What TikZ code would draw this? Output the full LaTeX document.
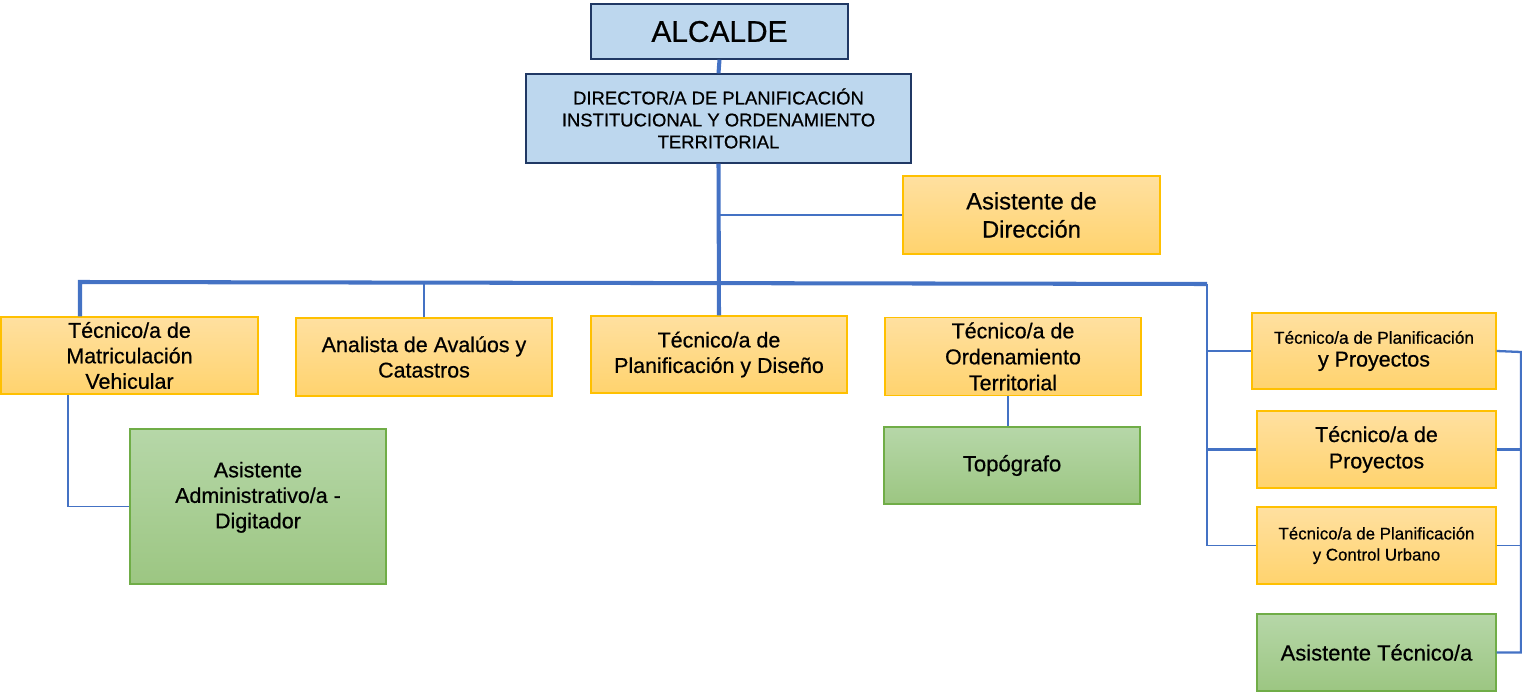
\documentclass[tikz,border=0pt]{standalone}
\usepackage{fontspec}
\setmainfont{Liberation Sans}[FakeBold=0.6]
\definecolor{linea}{RGB}{68,114,196}
\definecolor{azulfondo}{RGB}{189,215,238}
\definecolor{azulborde}{RGB}{32,56,100}
\definecolor{naranjaA}{RGB}{255,224,160}
\definecolor{naranjaB}{RGB}{255,211,110}
\definecolor{naranjaborde}{RGB}{255,192,0}
\definecolor{verdeA}{RGB}{182,215,168}
\definecolor{verdeB}{RGB}{156,198,130}
\definecolor{verdeborde}{RGB}{112,173,71}

\begin{document}
\begin{tikzpicture}[x=0.02cm, y=0.02cm,
    jefe/.style={draw=azulborde, line width=0.8pt, fill=azulfondo, align=center},
    cargo/.style={draw=naranjaborde, line width=0.8pt, top color=naranjaA, bottom color=naranjaB, align=center},
    apoyo/.style={draw=verdeborde, line width=0.8pt, top color=verdeA, bottom color=verdeB, align=center},
    bus/.style={draw=linea, line width=2.3pt},
    rama/.style={draw=linea, line width=0.7pt},
    ramab/.style={draw=linea, line width=1.3pt}]
                \tikzstyle{every node}+=[inner sep=0pt]
                \useasboundingbox (0,0) rectangle (1522,-693);
                % direccion
                \node [jefe, minimum width=5.14cm, minimum height=1.1cm, font=\fontsize{17}{20}\selectfont] (alc) at (719.5,-31.5) {ALCALDE};
                \node [jefe, minimum width=7.7cm, minimum height=1.78cm, font=\fontsize{10.5}{12.5}\selectfont] (dir) at (718.5,-118.5) {DIRECTOR/A DE PLANIFICACIÓN\\INSTITUCIONAL Y ORDENAMIENTO\\TERRITORIAL};
                \node [cargo, minimum width=5.14cm, minimum height=1.56cm, font=\fontsize{13.5}{16}\selectfont] (asd) at (1031.5,-215) {Asistente de\\Dirección};
                % primer nivel
                \node [cargo, minimum width=5.14cm, minimum height=1.54cm, font=\fontsize{12.2}{14.5}\selectfont] (mat) at (129.5,-355.5) {Técnico/a de\\Matriculación\\Vehicular};
                \node [cargo, minimum width=5.12cm, minimum height=1.56cm, font=\fontsize{12.2}{14.5}\selectfont] (ana) at (424,-357) {Analista de Avalúos y\\Catastros};
                \node [cargo, minimum width=5.12cm, minimum height=1.54cm, font=\fontsize{12.2}{14.5}\selectfont] (pld) at (719,-354.5) {Técnico/a de\\Planificación y Diseño};
                \node [cargo, minimum width=5.12cm, minimum height=1.56cm, font=\fontsize{12.2}{14.8}\selectfont] (ord) at (1013,-356.5) {Técnico/a de\\Ordenamiento\\Territorial};
                \node [apoyo, minimum width=5.12cm, minimum height=1.54cm, font=\fontsize{12.6}{14}\selectfont] (top) at (1012,-465.5) {Topógrafo};
                \node [apoyo, minimum width=5.12cm, minimum height=3.1cm, font=\fontsize{12.2}{14.5}\selectfont] (adm) at (258,-506.5) {Asistente\\Administrativo/a -\\Digitador\\[-1.5pt]};
                % columna derecha
                \node [cargo, minimum width=4.88cm, minimum height=1.52cm, font=\fontsize{9.8}{13}\selectfont] (pp) at (1374,-351) {Técnico/a de Planificación\\{\fontsize{12.2}{13}\selectfont y Proyectos}};
                \node [cargo, minimum width=4.78cm, minimum height=1.54cm, font=\fontsize{12.2}{15}\selectfont] (tp) at (1376.5,-449.5) {Técnico/a de\\Proyectos};
                \node [cargo, minimum width=4.78cm, minimum height=1.54cm, font=\fontsize{9.6}{12}\selectfont] (pc) at (1376.5,-545.5) {Técnico/a de Planificación\\y Control Urbano};
                \node [apoyo, minimum width=4.78cm, minimum height=1.54cm, font=\fontsize{12.5}{14}\selectfont] (ast) at (1376.5,-652.5) {Asistente Técnico/a};
                % puntos de las lineas
                \coordinate (busL) at (80,-282);
                \coordinate (busR) at (1207,-284);
                \coordinate (brk) at (1521,-352);
                \coordinate (ordx) at (1008,0);
                \coordinate (matx) at (68,0);
                % conectores
                \draw [bus] (alc.south) -- (dir.north);
                \draw [bus] (dir.south) -- (pld.north);
                \draw [rama] (dir.south |- asd.west) -- (asd.west);
                \draw [bus] (busL |- mat.north) -- (busL) -- (busR);
                \draw [rama] (ana.north) -- (ana.north |- busL);
                \draw [rama] (ordx |- ord.south) -- (ordx |- top.north);
                \draw [rama] (matx |- mat.south) |- (adm.west);
                \draw [rama] (busR) -- (busR |- pc.west) -- (pc.west);
                \draw [ramab] (busR |- pp.west) -- (pp.west);
                \draw [ramab] (busR |- tp.west) -- (tp.west);
                \draw [ramab] (pp.east) -- (brk) -- (brk |- ast.east) -- (ast.east);
                \draw [ramab] (tp.east) -- (brk |- tp.east);
                \draw [rama] (pc.east) -- (brk |- pc.east);
            \end{tikzpicture}
\end{document}
